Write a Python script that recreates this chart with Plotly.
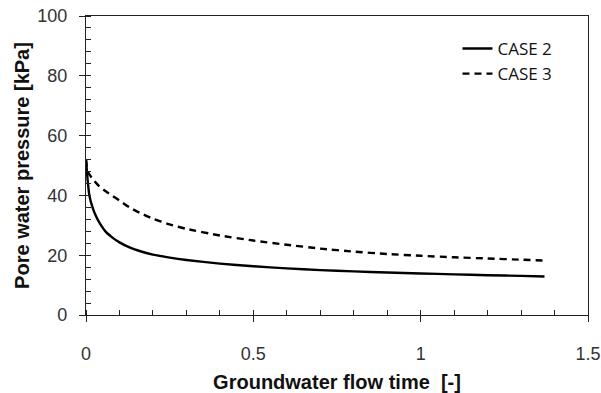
import plotly.graph_objects as go

time = [0, 0.005, 0.01, 0.02, 0.03, 0.04, 0.06, 0.08, 0.1, 0.13, 0.16, 0.2, 0.25, 0.3,
        0.4, 0.5, 0.6, 0.7, 0.8, 0.9, 1.0, 1.1, 1.2, 1.3, 1.37]
case2 = [52, 45, 40, 35.8, 33.0, 30.9, 27.7, 25.8, 24.3, 22.6, 21.4, 20.2, 19.2, 18.4,
         17.2, 16.3, 15.6, 15.0, 14.6, 14.2, 13.9, 13.6, 13.3, 13.1, 12.9]
case3 = [52, 48, 47, 45.5, 44.2, 43, 41.3, 39.8, 38.3, 36.0, 34.2, 32.2, 30.3, 28.8,
         26.6, 24.9, 23.5, 22.2, 21.2, 20.4, 19.8, 19.3, 18.9, 18.5, 18.2]

fig = go.Figure()
fig.add_trace(go.Scatter(x=time, y=case2, mode="lines", name="CASE 2",
                         line=dict(color="black", width=2.4, shape="spline", smoothing=0.5)))
fig.add_trace(go.Scatter(x=time, y=case3, mode="lines", name="CASE 3",
                         line=dict(color="black", width=2.4, dash="7px,5px", shape="spline", smoothing=0.5)))

axis_common = dict(showline=True, linecolor="#222", linewidth=1.3, mirror=True,
                   showgrid=False, zeroline=False, ticks="outside", ticklen=6,
                   tickcolor="#222", tickwidth=1.2, automargin=False,
                   tickfont=dict(family="Liberation Sans, Arial", size=18, color="#333"))

fig.update_xaxes(range=[0, 1.5], dtick=0.5, tick0=0,
                 minor=dict(dtick=0.1, ticks="inside", ticklen=5, tickcolor="#222", tickwidth=1),
                 title=dict(text="<b>Groundwater flow time  [-]</b>", standoff=14,
                            font=dict(family="Liberation Sans, Arial", size=20, color="#111")),
                 ticklabelstandoff=16, **axis_common)
fig.update_yaxes(range=[0, 100], dtick=20, tick0=0,
                 minor=dict(dtick=4, ticks="inside", ticklen=5, tickcolor="#222", tickwidth=1),
                 title=dict(text="<b>Pore water pressure [kPa]</b>", standoff=2,
                            font=dict(family="Liberation Sans, Arial", size=20, color="#111")),
                 ticklabelstandoff=8, **axis_common)

fig.update_layout(width=601, height=393, margin=dict(l=86, r=13, t=16, b=78),
                  paper_bgcolor="white", plot_bgcolor="white",
                  legend=dict(x=0.74, y=0.95, xanchor="left", yanchor="top",
                              bgcolor="rgba(0,0,0,0)", tracegroupgap=0,
                              font=dict(family="Open Sans", size=17, color="#111")),
                  )
fig.write_html("out.html")
